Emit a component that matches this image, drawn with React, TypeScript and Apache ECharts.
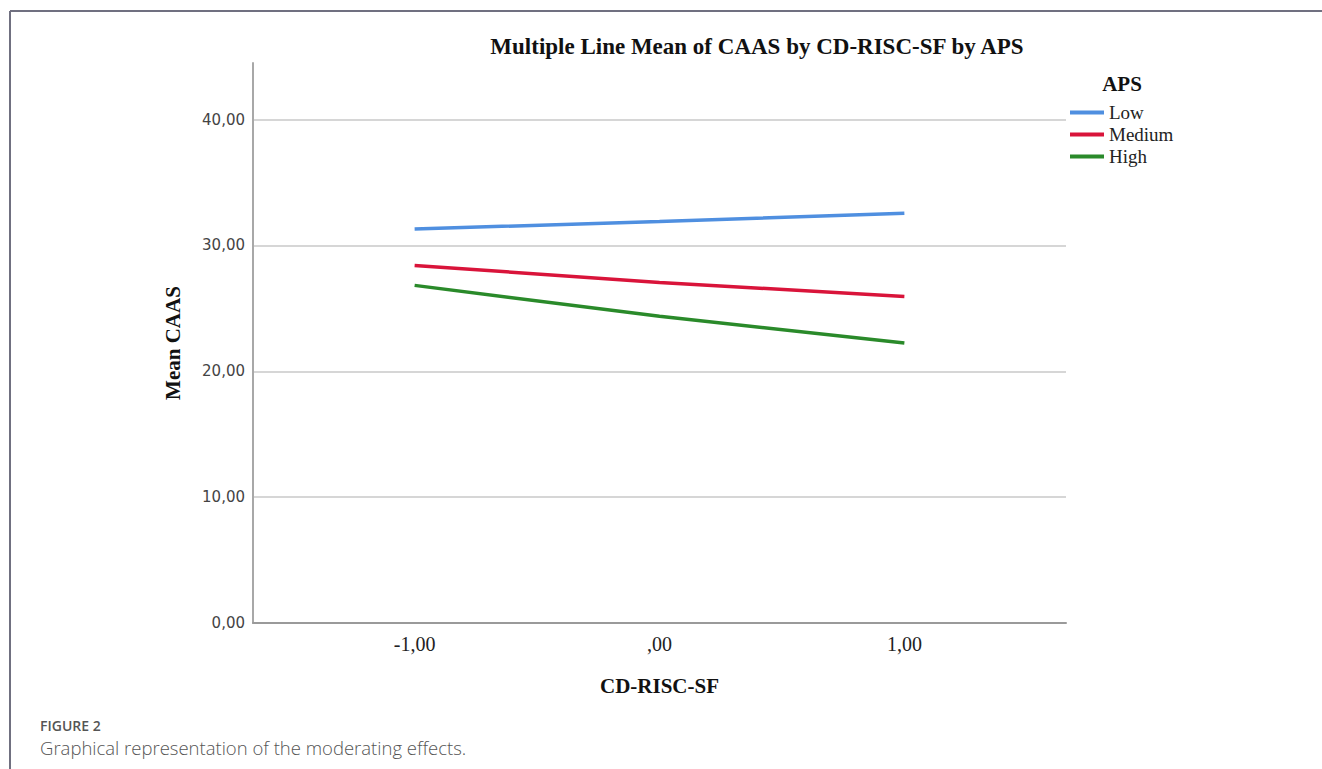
import React, { useEffect, useRef } from "react";
import * as echarts from "echarts";

const seriesNames = ["Low", "Medium", "High"];
const xValues = [-1, 0, 1];
const lowValues = [31.31, 31.9, 32.56];
const mediumValues = [28.41, 27.06, 25.95];
const highValues = [26.83, 24.37, 22.25];
const seriesColors = ["#4f8fe0", "#d9143a", "#2a8a2a"];

const fmtX = (v: number) => {
  if (Math.abs(v - Math.round(v)) > 1e-9 || Math.abs(v) > 1) return "";
  const s = v.toFixed(2).replace(".", ",");
  return s.replace(/^0,/, ",");
};
const fmtY = (v: number) => v.toFixed(2).replace(".", ",");

export default function App() {
  const ref = useRef<HTMLDivElement>(null);
  useEffect(() => {
    if (!ref.current) return;
    const chart = echarts.init(ref.current, undefined, { renderer: "svg" });
    const all = [lowValues, mediumValues, highValues];
    const serif = "Liberation Serif";
    chart.setOption({
      animation: false,
      backgroundColor: "#ffffff",
      grid: { left: 253, right: 256, top: 63, bottom: 146 },
      xAxis: {
        type: "value",
        min: -1.66,
        max: 1.66,
        name: "CD-RISC-SF",
        nameLocation: "middle",
        nameGap: 52,
        nameTextStyle: { fontFamily: serif, fontWeight: "bold", fontSize: 21, color: "#111" },
        axisLine: { show: true, onZero: false, lineStyle: { color: "#9a9a9a", width: 2 } },
        axisTick: { show: false },
        splitLine: { show: false },
        axisLabel: {
          formatter: fmtX,
          margin: 11,
          fontFamily: serif,
          fontSize: 20,
          color: "#222",
          showMinLabel: false,
          showMaxLabel: false,
        },
      },
      yAxis: {
        type: "value",
        min: 0,
        max: 44.5,
        interval: 10,
        name: "Mean CAAS",
        nameLocation: "middle",
        nameGap: 70,
        nameTextStyle: { fontFamily: serif, fontWeight: "bold", fontSize: 21, color: "#111" },
        axisLine: { show: true, onZero: false, lineStyle: { color: "#a8a8a8", width: 2 } },
        axisTick: { show: false },
        splitLine: {
          show: true,
          showMinLine: false,
          showMaxLine: false,
          lineStyle: { color: "#c8c8c8", width: 1.5 },
        },
        axisLabel: {
          formatter: (v: number) => (v > 40.5 ? "" : fmtY(v)),
          margin: 8,
          fontFamily: "DejaVu Sans",
          fontSize: 15,
          color: "#444",
          showMaxLabel: false,
        },
      },
      legend: {
        data: seriesNames,
        orient: "vertical",
        left: 1070,
        top: 103,
        padding: 0,
        icon: "rect",
        itemWidth: 34,
        itemHeight: 4,
        itemGap: 3,
        textStyle: { fontFamily: serif, fontSize: 19, color: "#222", lineHeight: 19 },
      },
      series: seriesNames.map((name, i) => ({
        name,
        type: "line",
        symbol: "none",
        color: seriesColors[i],
        lineStyle: { color: seriesColors[i], width: 3.5 },
        data: xValues.map((x, j) => [x, all[i][j]]),
      })),
      graphic: [
        {
          type: "line",
          shape: { x1: 10, y1: 11, x2: 1322, y2: 11 },
          style: { stroke: "#707080", lineWidth: 2 },
        },
        {
          type: "line",
          shape: { x1: 10, y1: 11, x2: 10, y2: 769 },
          style: { stroke: "#707080", lineWidth: 2 },
        },
        {
          type: "text",
          x: 757,
          y: 46,
          style: {
            text: "Multiple Line Mean of CAAS by CD-RISC-SF by APS",
            fontFamily: serif,
            fontWeight: "bold",
            fontSize: 23,
            fill: "#111",
            textAlign: "center",
            textVerticalAlign: "middle",
          },
        },
        {
          type: "text",
          x: 1122,
          y: 84,
          style: {
            text: "APS",
            fontFamily: serif,
            fontWeight: "bold",
            fontSize: 21,
            fill: "#111",
            textAlign: "center",
            textVerticalAlign: "middle",
          },
        },
        {
          type: "text",
          x: 40,
          y: 725,
          style: {
            text: "FIGURE 2",
            fontFamily: "Open Sans",
            fontWeight: 600,
            fontSize: 14,
            fill: "#555",
            textVerticalAlign: "middle",
          },
        },
        {
          type: "text",
          x: 40,
          y: 747,
          style: {
            text: "Graphical representation of the moderating effects.",
            fontFamily: "Open Sans",
            fontWeight: 300,
            fontSize: 18.5,
            fill: "#555",
            textVerticalAlign: "middle",
          },
        },
      ],
    });
    return () => chart.dispose();
  }, []);
  return (
    <div
      ref={ref}
      style={{ position: "absolute", left: 0, top: 0, width: 1322, height: 769 }}
    />
  );
}
